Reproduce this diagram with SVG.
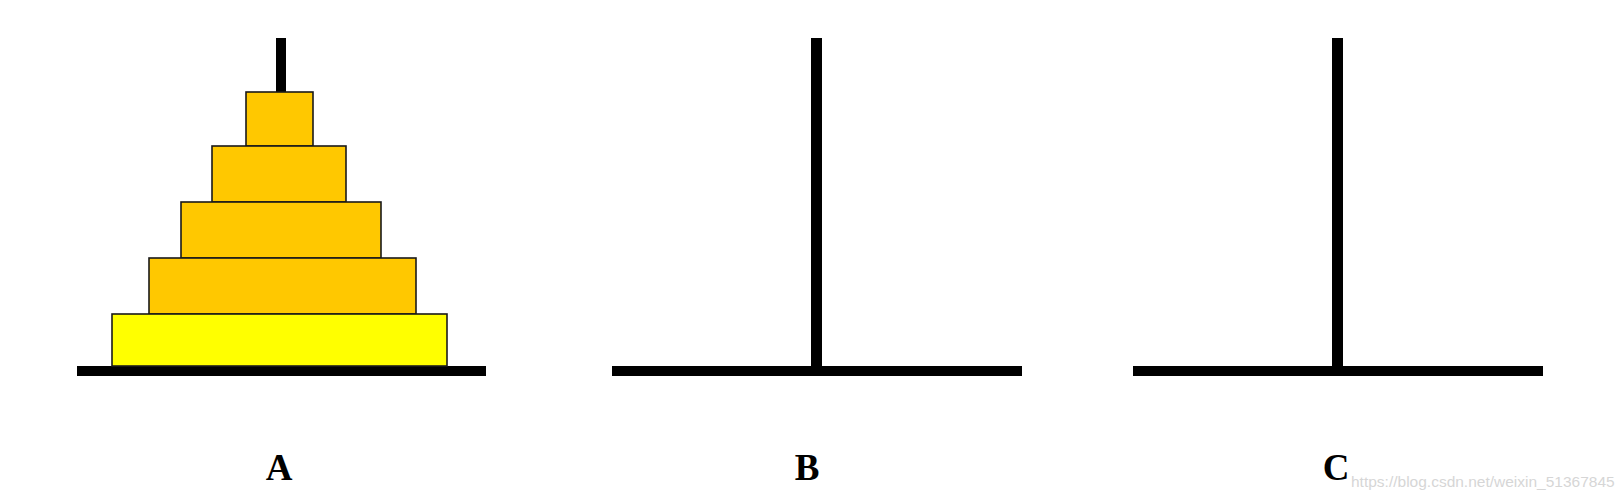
<svg xmlns="http://www.w3.org/2000/svg" width="1623" height="499" viewBox="0 0 1623 499">
<style>
.peg{fill:#000}
.disk{stroke:#1a1a1a;stroke-width:1.6}
.d{fill:#FFC800}
.big{fill:#FFFF00}
.lbl{font-family:"Liberation Serif","Times New Roman",serif;font-weight:bold;font-size:37px;fill:#000;text-anchor:middle}
.wm{font-family:"Liberation Sans",Arial,sans-serif;font-size:15.5px;fill:#d6d6d6}
</style>
<rect width="1623" height="499" fill="#fff"/>
<g id="pegA">
<rect class="peg" x="276" y="38" width="10" height="330"/>
<rect class="peg" x="77" y="366" width="409" height="10"/>
</g>
<g id="pegB">
<rect class="peg" x="811" y="38" width="11" height="330"/>
<rect class="peg" x="612" y="366" width="410" height="10"/>
</g>
<g id="pegC">
<rect class="peg" x="1332" y="38" width="11" height="330"/>
<rect class="peg" x="1133" y="366" width="410" height="10"/>
</g>
<g id="disks">
<rect id="disk1" class="disk d" x="246" y="92" width="67" height="54"/>
<rect id="disk2" class="disk d" x="212" y="146" width="134" height="56"/>
<rect id="disk3" class="disk d" x="181" y="202" width="200" height="56"/>
<rect id="disk4" class="disk d" x="149" y="258" width="267" height="56"/>
<rect id="disk5" class="disk big" x="112" y="314" width="335" height="52"/>
</g>
<g id="labels">
<text class="lbl" x="279" y="480">A</text>
<text class="lbl" x="807" y="480">B</text>
<text class="lbl" x="1336" y="480">C</text>
</g>
<text class="wm" x="1351" y="487">https://blog.csdn.net/weixin_51367845</text>
</svg>
